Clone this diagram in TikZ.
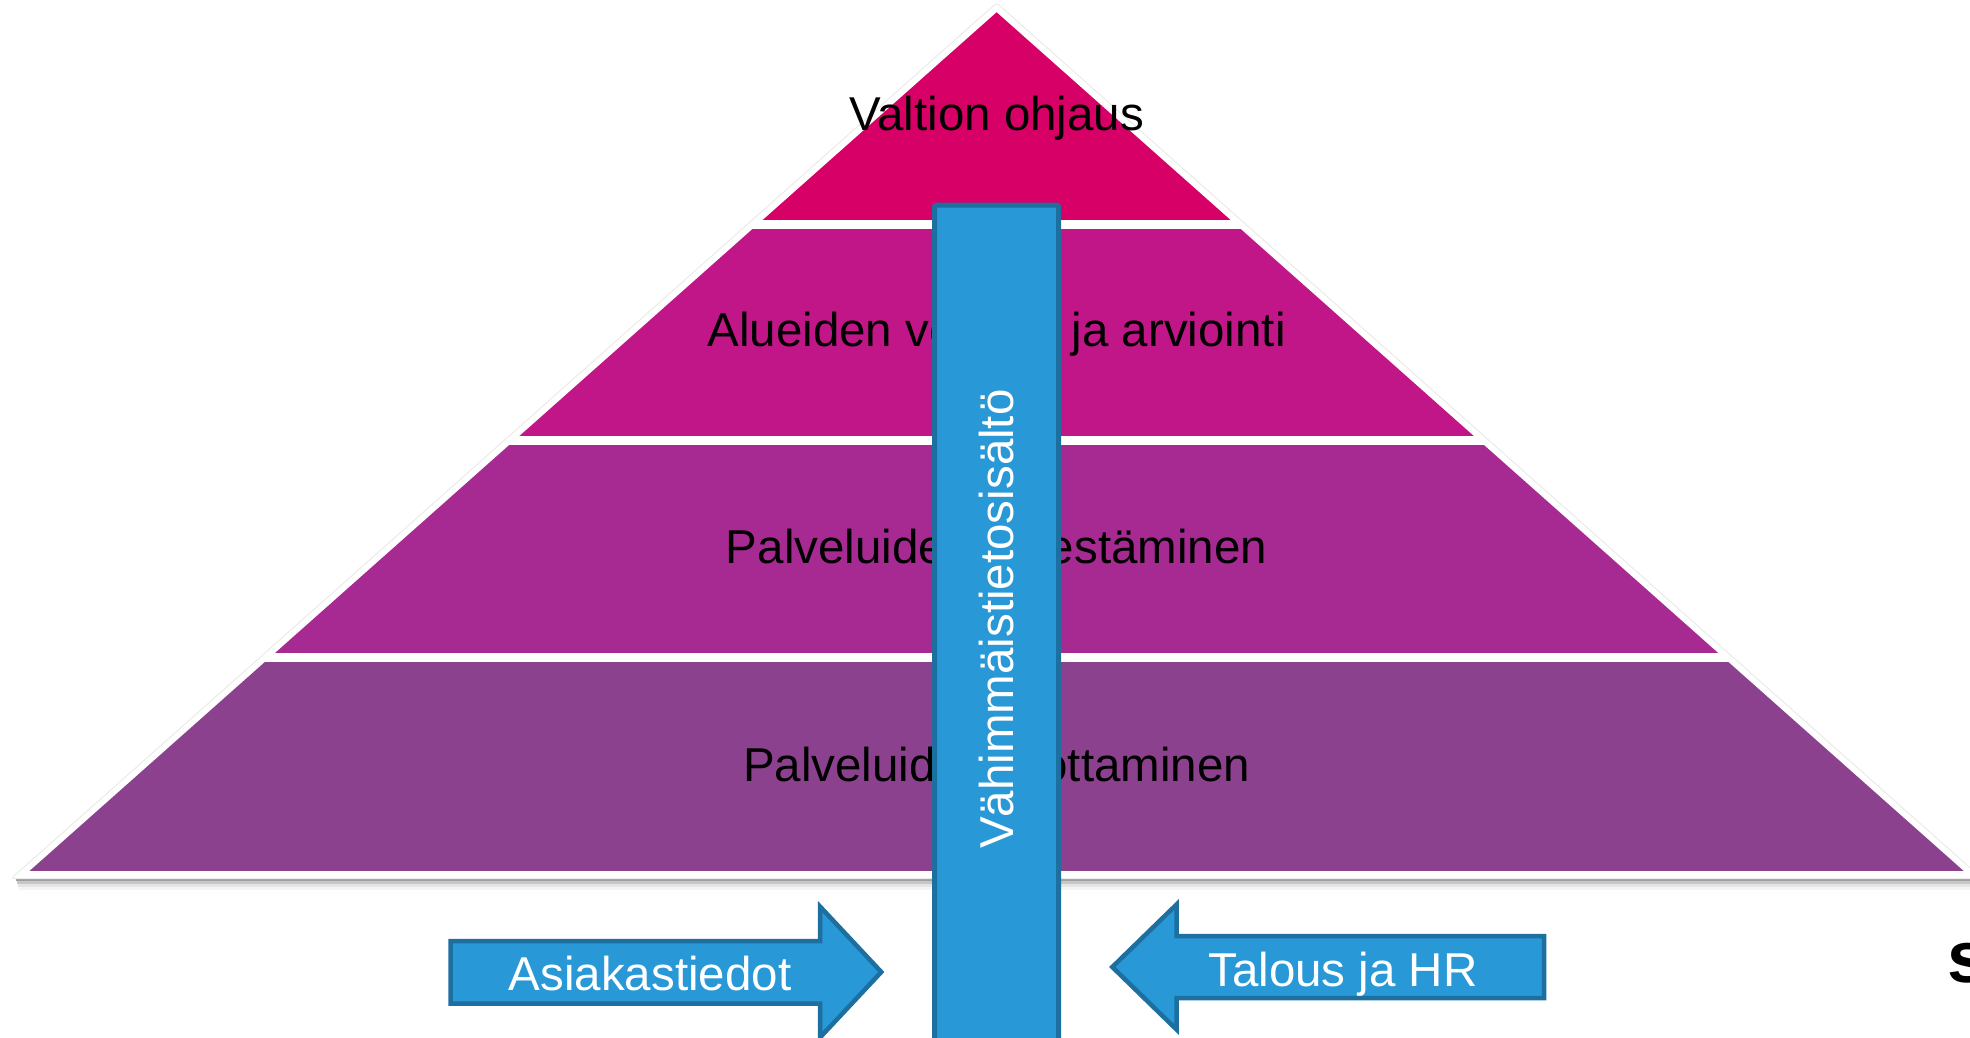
\documentclass[tikz,border=0pt]{standalone}
\usepackage{fontspec}
\setmainfont{Liberation Sans}
\definecolor{tierA}{RGB}{215,0,102}
\definecolor{tierB}{RGB}{193,22,135}
\definecolor{tierC}{RGB}{167,42,147}
\definecolor{tierD}{RGB}{140,65,142}
\definecolor{barblue}{RGB}{40,152,214}
\definecolor{barline}{RGB}{29,111,160}
\begin{document}
\begin{tikzpicture}[x=1pt,y=-1pt,
  tiertext/.style={font=\fontsize{47.5}{57}\selectfont, text=black, inner sep=0pt, anchor=base},
  bartext/.style={font=\fontsize{47.5}{57}\selectfont, text=white, inner sep=0pt},
  blockarrow/.style={fill=barblue, draw=barline, line width=4.5pt, line join=miter},
  shadowband/.style={fill=black}
]
\useasboundingbox (0,0) rectangle (1970,1037);
\clip (0,0) rectangle (1970,1037);

% pyramid corners
\coordinate (apex) at (996.6,12.3);
\coordinate (bl) at (29.5,871);
\coordinate (br) at (1963.7,871);

% shadow under the pyramid base
\fill[shadowband, opacity=0.38] (16,876) rectangle (1970,881);
\fill[shadowband, opacity=0.22] (17,881) rectangle (1970,884);
\fill[shadowband, opacity=0.10] (18,884) rectangle (1970,887);
\fill[shadowband, opacity=0.04] (19,887) rectangle (1970,890);

% white outline of the pyramid
\filldraw[fill=white, draw=black!8, line width=1pt, rounded corners=3pt]
  (996.6,2.9) -- (11.1,878.5) -- (1982.1,878.5) -- cycle;

% tiers
\begin{scope}
  \clip (apex) -- (bl) -- (br) -- cycle;
  \fill[tierA] (0,0) rectangle (1970,219.5);
  \fill[tierB] (0,228.5) rectangle (1970,436);
  \fill[tierC] (0,445) rectangle (1970,653);
  \fill[tierD] (0,662) rectangle (1970,871);
\end{scope}

% tier labels
\node[tiertext] (t1) at (996.6,130) {Valtion ohjaus};
\node[tiertext] (t2) at (996.6,346.7) {Alueiden vertailu ja arviointi};
\node[tiertext] (t3) at (996.6,563.3) {Palveluiden järjestäminen};
\node[tiertext] (t4) at (996.6,781.7) {Palveluiden tuottaminen};

% vertical bar
\node[draw=barline, fill=barblue, line width=5pt, rounded corners=2pt,
      minimum width=124pt, minimum height=880pt, inner sep=0pt, anchor=north]
  (bar) at (996.5,202.5) {};
\node[bartext, rotate=90] (vtxt) at (996.5,619) {Vähimmäistietosisältö};

% left block arrow
\draw[blockarrow] (450.5,941) -- (820,941) -- (820,906.5) -- (881.3,972)
  -- (820,1037.5) -- (820,1003.5) -- (450.5,1003.5) -- cycle;
\node[bartext, anchor=base] (asiakas) at (650,990) {Asiakastiedot};

% right block arrow
\draw[blockarrow] (1544,936) -- (1176.5,936) -- (1176.5,904.5) -- (1112.3,967)
  -- (1176.5,1029.5) -- (1176.5,998) -- (1544,998) -- cycle;
\node[bartext, anchor=base] (talous) at (1343,986) {Talous ja HR};

% cut-off letter at the right edge
\node[font=\fontsize{73}{80}\selectfont\bfseries, anchor=base west, inner sep=0pt]
  (cut) at (1947,982) {s};
\end{tikzpicture}
\end{document}
